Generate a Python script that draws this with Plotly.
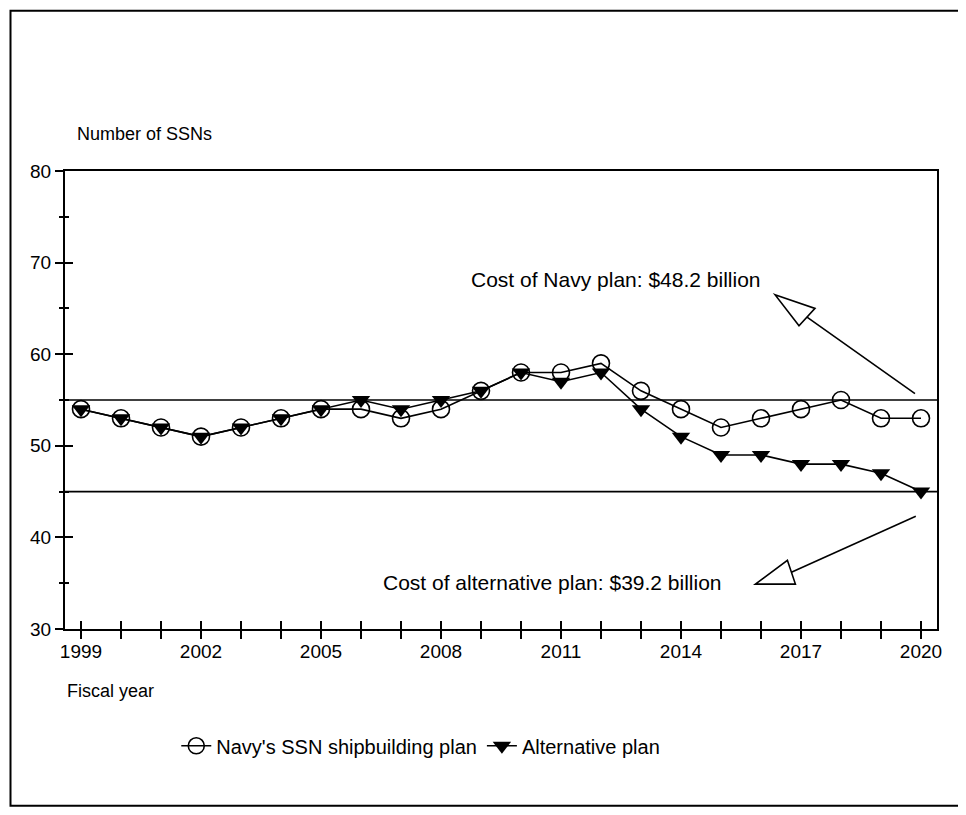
import plotly.graph_objects as go

years = list(range(1999, 2021))
navy_plan = [54, 53, 52, 51, 52, 53, 54, 54, 53, 54, 56, 58, 58, 59, 56, 54, 52, 53, 54, 55, 53, 53]
alt_plan = [54, 53, 52, 51, 52, 53, 54, 55, 54, 55, 56, 58, 57, 58, 54, 51, 49, 49, 48, 48, 47, 45]
tick_labels = [str(y) if (y - 1999) % 3 == 0 else "" for y in years]
ref_levels = [55, 45]
y_major = [30, 40, 50, 60, 70, 80]
y_minor = [35, 45, 55, 65, 75]

FONT = "Liberation Sans, Arial, sans-serif"
XR = [1998.6, 2020.4]
YR = [30, 80]

fig = go.Figure()
fig.add_trace(go.Scatter(
    x=years, y=navy_plan, mode="lines+markers", name="Navy's SSN shipbuilding plan",
    line=dict(color="black", width=1.6),
    marker=dict(symbol="circle-open", size=17, color="black", line=dict(width=1.6)),
))
fig.add_trace(go.Scatter(
    x=years, y=alt_plan, mode="lines+markers", name="Alternative plan",
    line=dict(color="black", width=1.6),
    marker=dict(symbol="triangle-down", size=16, color="black"),
))
# dummy trace for overlay axes (inside half of crossing ticks)
fig.add_trace(go.Scatter(x=[None], y=[None], xaxis="x2", yaxis="y2", showlegend=False, hoverinfo="skip"))

shapes = []
for lv in ref_levels:
    shapes.append(dict(type="line", xref="paper", yref="y", x0=0, x1=1, y0=lv, y1=lv,
                       line=dict(color="black", width=1.6)))

def arrow(tail, tip, c1, c2):
    bm = ((c1[0] + c2[0]) / 2, (c1[1] + c2[1]) / 2)
    return [
        dict(type="line", xref="x", yref="y", x0=tail[0], y0=tail[1], x1=bm[0], y1=bm[1],
             line=dict(color="black", width=1.6)),
        dict(type="path", xref="x", yref="y",
             path=f"M {tip[0]},{tip[1]} L {c1[0]},{c1[1]} L {c2[0]},{c2[1]} Z",
             line=dict(color="black", width=1.6), fillcolor="white"),
    ]

shapes += arrow((2019.85, 55.7), (2016.35, 66.5), (2017.35, 65.0), (2016.95, 63.1))
shapes += arrow((2019.87, 42.3), (2015.86, 34.9), (2016.66, 37.5), (2016.86, 34.9))

# outer border
shapes.append(dict(type="rect", xref="paper", yref="paper", x0=-0.0625, x1=1.032, y0=-0.386, y1=1.350,
                   line=dict(color="black", width=2), layer="below"))

annotations = [
    dict(text="Number of SSNs", xref="paper", yref="paper", x=0.012, y=1.081, xanchor="left",
         yanchor="middle", showarrow=False, font=dict(size=18, color="black", family=FONT)),
    dict(text="Fiscal year", xref="paper", yref="paper", x=0.0, y=-0.135, xanchor="left",
         yanchor="middle", showarrow=False, font=dict(size=18, color="black", family=FONT)),
    dict(text="Cost of Navy plan: $48.2 billion", xref="x", yref="y", x=2016.06, y=68.2,
         xanchor="right", yanchor="middle", showarrow=False, font=dict(size=21, color="black", family=FONT)),
    dict(text="Cost of alternative plan: $39.2 billion", xref="x", yref="y", x=2015.07, y=35.1,
         xanchor="right", yanchor="middle", showarrow=False, font=dict(size=21, color="black", family=FONT)),
]

fig.update_layout(
    width=966, height=815,
    margin=dict(l=57, r=37, t=163, b=194),
    paper_bgcolor="white", plot_bgcolor="white",
    font=dict(family=FONT, size=19, color="black"),
    shapes=shapes, annotations=annotations,
    showlegend=True,
    legend=dict(orientation="h", x=0.408, xanchor="center", y=-0.255, yanchor="middle",
                font=dict(size=20, color="black", family=FONT), itemwidth=30,
                bgcolor="rgba(0,0,0,0)"),
    xaxis=dict(range=XR, tickvals=years, ticks="outside", ticklen=8, showticklabels=False,
               tickwidth=1.5, tickcolor="black", showline=True, linecolor="black", linewidth=2,
               mirror=True, showgrid=False, zeroline=False),
    yaxis=dict(range=YR, tickvals=y_major, ticks="outside", ticklen=8,
               tickwidth=1.5, tickcolor="black", showline=True, linecolor="black", linewidth=2,
               mirror=True, showgrid=False, zeroline=False, tickfont=dict(size=19, color="black"),
               minor=dict(ticks="outside", ticklen=4, tickvals=y_minor,
                          tickcolor="black", tickwidth=1.5, showgrid=False)),
    xaxis2=dict(range=XR, overlaying="x", anchor="y", side="bottom", tickvals=years, ticktext=tick_labels,
                ticks="inside", ticklen=8, tickwidth=1.5, tickcolor="black", showticklabels=True,
                ticklabelstandoff=9, tickfont=dict(size=19, color="black"),
                showgrid=False, zeroline=False, showline=False),
    yaxis2=dict(range=YR, overlaying="y", anchor="x", side="left", tickvals=y_major,
                ticks="inside", ticklen=8, tickwidth=1.5, tickcolor="black", showticklabels=False,
                showgrid=False, zeroline=False, showline=False,
                minor=dict(ticks="inside", ticklen=4, tickvals=y_minor,
                           tickcolor="black", tickwidth=1.5, showgrid=False)),
)

fig.write_html("out.html")
